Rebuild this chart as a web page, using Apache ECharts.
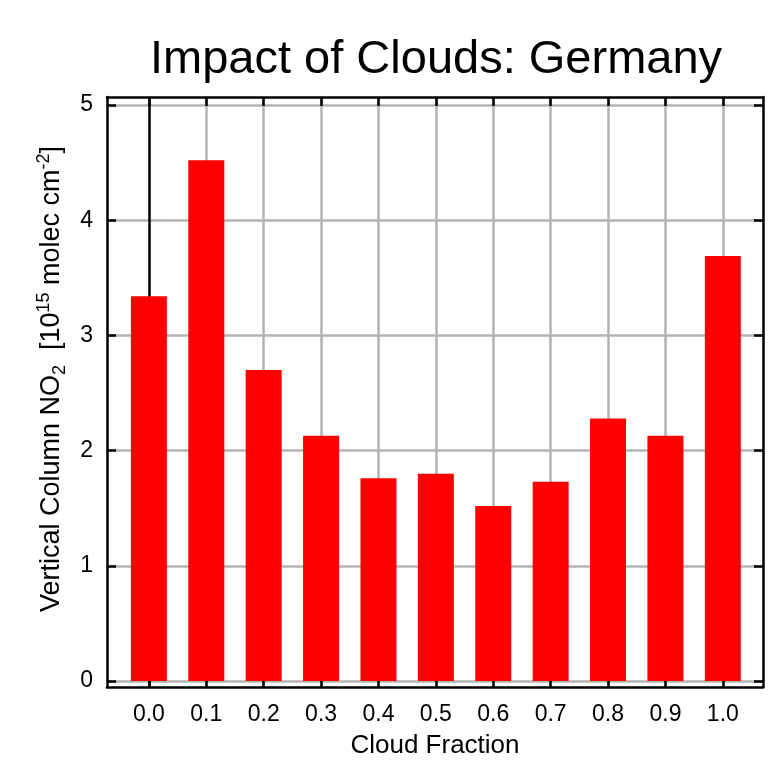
<!DOCTYPE html>
<html>
<head>
<meta charset="utf-8">
<script src="https://cdn.jsdelivr.net/npm/echarts@6/dist/echarts.min.js"></script>
<style>
  html, body { margin: 0; padding: 0; background: #fff; }
  #chart { width: 770px; height: 764px; }
</style>
</head>
<body>
<div id="chart"></div>
<script>
// Cloud fraction bins and mean NO2 vertical columns (10^15 molec cm^-2)
const cloudFractions = [0.0, 0.1, 0.2, 0.3, 0.4, 0.5, 0.6, 0.7, 0.8, 0.9, 1.0];
const no2Columns = [3.34, 4.52, 2.70, 2.13, 1.76, 1.80, 1.52, 1.73, 2.28, 2.13, 3.69];
const yTicks = [0, 1, 2, 3, 4, 5];
const xTicks = cloudFractions;

const FONT = 'Liberation Sans, Arial, Helvetica, sans-serif';
const GRID_GRAY = '#b3b3b3';
const FRAME_W = 2.5;

const chart = echarts.init(document.getElementById('chart'), null, { renderer: 'canvas' });

// first vertical grid line is drawn in black, the rest grey
const vLineColors = xTicks.map((v, i) => (i === 0 ? '#000' : GRID_GRAY));

const frameAxisCommon = {
  axisLine: { show: true, onZero: false, lineStyle: { color: '#000', width: FRAME_W } },
  axisTick: { show: true, inside: true, length: 9, lineStyle: { color: '#000', width: FRAME_W } }
};

chart.setOption({
  animation: false,
  backgroundColor: '#fff',
  title: {
    text: 'Impact of Clouds: Germany',
    left: 150,
    top: 37,
    padding: 0,
    textStyle: { fontFamily: FONT, fontSize: 47, fontWeight: 'normal', color: '#000' }
  },
  grid: { left: 107, right: 7, top: 97, bottom: 75, containLabel: false },
  xAxis: [
    {
      type: 'value',
      position: 'bottom',
      min: -0.073,
      max: 1.07,
      ...frameAxisCommon,
      axisTick: { ...frameAxisCommon.axisTick, customValues: xTicks },
      axisLabel: {
        customValues: xTicks,
        formatter: v => Number(v).toFixed(1),
        fontFamily: FONT, fontSize: 23, color: '#000', margin: 16
      },
      splitLine: { show: true, lineStyle: { color: vLineColors, width: FRAME_W } },
      name: 'Cloud Fraction',
      nameLocation: 'middle',
      nameGap: 46,
      nameTextStyle: { fontFamily: FONT, fontSize: 26, color: '#000' }
    },
    {
      type: 'value',
      position: 'top',
      min: -0.073,
      max: 1.07,
      ...frameAxisCommon,
      axisTick: { ...frameAxisCommon.axisTick, customValues: xTicks },
      axisLabel: { show: false, customValues: xTicks },
      splitLine: { show: false }
    }
  ],
  yAxis: [
    {
      type: 'value',
      position: 'left',
      min: -0.052,
      max: 5.07,
      ...frameAxisCommon,
      axisTick: { ...frameAxisCommon.axisTick, customValues: yTicks },
      axisLabel: {
        customValues: yTicks,
        fontFamily: FONT, fontSize: 23, color: '#000', margin: 14
      },
      splitLine: { show: true, lineStyle: { color: GRID_GRAY, width: FRAME_W } },
      name: '{a|Vertical Column NO}{sub|2}{a|  [10}{sup|15}{a| molec cm}{sup|-2}{a|]}',
      nameLocation: 'middle',
      nameGap: 38,
      nameTextStyle: {
        fontFamily: FONT,
        color: '#000',
        padding: [0, 0, 0, 26],
        rich: {
          a: { fontFamily: FONT, fontSize: 27, color: '#000', lineHeight: 34, verticalAlign: 'middle' },
          sub: { fontFamily: FONT, fontSize: 18, color: '#000', lineHeight: 18, verticalAlign: 'bottom' },
          sup: { fontFamily: FONT, fontSize: 18, color: '#000', lineHeight: 18, verticalAlign: 'top' }
        }
      }
    },
    {
      type: 'value',
      position: 'right',
      min: -0.052,
      max: 5.07,
      ...frameAxisCommon,
      axisTick: { ...frameAxisCommon.axisTick, customValues: yTicks },
      axisLabel: { show: false, customValues: yTicks },
      splitLine: { show: false }
    }
  ],
  series: [
    {
      type: 'bar',
      xAxisIndex: 0,
      yAxisIndex: 0,
      barWidth: 36,
      itemStyle: { color: '#ff0000' },
      data: cloudFractions.map((c, i) => [c, no2Columns[i]])
    }
  ]
});
</script>
</body>
</html>
